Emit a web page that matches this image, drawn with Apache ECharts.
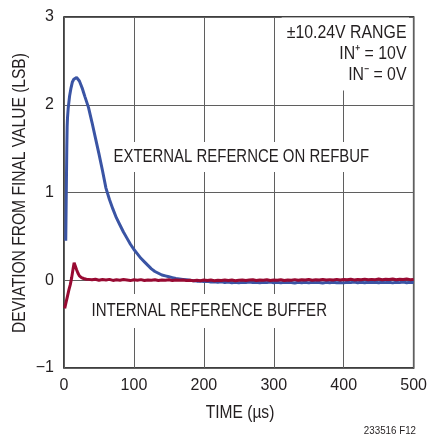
<!DOCTYPE html>
<html>
<head>
<meta charset="utf-8">
<script src="https://cdn.jsdelivr.net/npm/echarts@6/dist/echarts.min.js"></script>
<style>html,body{margin:0;padding:0;background:#fff;}#c{width:430px;height:437px;}</style>
</head>
<body>
<div id="c"></div>
<script>
// ---- data ----
const xTicks = [0, 100, 200, 300, 400, 500];
const yTicks = [-1, 0, 1, 2, 3];

// External reference on REFBUF (blue)
const blueTime = [2.5,3,3.5,4,4.5,5,6,7,8,10,12,14,16,18,20,22,24,26,28,30,35,40,45,50,55,60,65,70,75,80,85,90,95,100,105,110,115,120,125,130,135,140,145,150,155,160,165,170,175,180,
  185,190,195,200,205,210,215,220,225,230,235,240,245,250,255,260,265,270,275,280,285,290,295,300,305,310,315,320,325,330,335,340,345,350,355,360,365,370,375,380,385,390,395,400,405,410,415,420,425,430,435,440,445,450,455,460,465,470,475,480,485,490,495,500];
const blueValue = [0.45,0.8,1.15,1.5,1.75,1.85,1.96,2.03,2.1,2.19,2.26,2.29,2.31,2.31,2.3,2.27,2.23,2.19,2.14,2.09,1.97,1.8,1.62,1.44,1.25,1.05,0.92,0.81,0.71,0.63,0.55,0.48,0.41,0.35,0.3,0.25,0.21,0.17,0.13,0.1,0.08,0.06,0.05,0.04,0.03,0.02,0.015,0.01,0.005,0.0,
  -0.005,-0.01,-0.008,-0.015,-0.012,-0.02,-0.016,-0.022,-0.018,-0.025,-0.02,-0.028,-0.022,-0.03,-0.024,-0.027,-0.02,-0.026,-0.022,-0.029,-0.023,-0.027,-0.021,-0.028,-0.024,-0.03,-0.022,-0.027,-0.025,-0.031,-0.023,-0.028,-0.024,-0.03,-0.022,-0.027,-0.025,-0.031,-0.024,-0.028,-0.022,-0.029,-0.025,-0.03,-0.023,-0.027,-0.021,-0.028,-0.024,-0.029,-0.022,-0.026,-0.023,-0.029,-0.022,-0.027,-0.024,-0.03,-0.023,-0.027,-0.021,-0.028,-0.024,-0.026];

// Internal reference buffer (red)
const redTime = [1,3,5,7,9,11,13,14.5,16,18,20,22,25,28,32,
  35,40,45,50,55,60,65,70,75,80,85,90,95,100,105,110,115,120,125,130,135,140,145,150,155,160,165,170,175,180,185,190,195,200,205,210,215,220,225,230,235,240,245,250,255,260,265,270,275,280,285,290,295,300,305,310,315,320,325,330,335,340,345,350,355,360,365,370,375,380,385,390,395,400,405,410,415,420,425,430,435,440,445,450,455,460,465,470,475,480,485,490,495,500];
const redValue = [-0.32,-0.25,-0.18,-0.11,-0.05,0.03,0.13,0.2,0.19,0.12,0.08,0.05,0.03,0.02,0.012,
  0.01,0.005,0.012,0.0,0.008,0.003,0.01,-0.002,0.006,0.0,0.008,0.002,-0.004,0.005,0.0,0.007,-0.003,0.004,0.0,0.006,-0.002,0.003,0.0,0.005,-0.004,0.002,0.0,0.004,-0.003,0.001,-0.005,0.0,-0.006,0.002,-0.004,0.003,-0.005,0.0,-0.003,0.004,-0.002,0.002,-0.006,0.0,0.003,-0.004,0.002,0.006,-0.002,0.004,0.0,0.005,-0.003,0.003,0.0,0.006,-0.002,0.004,0.001,0.007,-0.001,0.005,0.002,0.008,0.0,0.006,0.003,0.009,0.002,0.007,0.004,0.01,0.003,0.008,0.005,0.012,0.004,0.009,0.006,0.013,0.005,0.01,0.007,0.014,0.006,0.011,0.008,0.015,0.006,0.012,0.009,0.014,0.007,0.01];

const seriesNames = ['EXTERNAL REFERNCE ON REFBUF', 'INTERNAL REFERENCE BUFFER'];
const rangeText = ['\u00B110.24V RANGE', 'IN\u207A = 10V', 'IN\u207B = 0V'];
const xTitle = 'TIME (\u00B5s)';
const yTitle = 'DEVIATION FROM FINAL VALUE (LSB)';
const footnote = '233516 F12';

// ---- chart ----
const pairs = (t, v) => t.map((x, i) => [x, v[i]]);
const SANS = '"Liberation Sans", Arial, sans-serif';
const TXT = '#231f20';
const NARROW_SCALE = 0.82;
const chart = echarts.init(document.getElementById('c'), null, {renderer: 'canvas'});
chart.setOption({
  animation: false,
  backgroundColor: '#fff',
  grid: {left: 64, right: 14, top: 17, bottom: 69, show: true, borderColor: '#000', borderWidth: 1.5, backgroundColor: 'transparent'},
  xAxis: {
    type: 'value', min: 0, max: 500, interval: 100,
    axisLine: {show: false}, axisTick: {show: false},
    axisLabel: {margin: 10, fontFamily: SANS, fontSize: 16, color: TXT,
      formatter: v => xTicks.includes(v) ? String(v) : ''},
    splitLine: {show: true, lineStyle: {color: '#5f5f5f', width: 1}}
  },
  yAxis: {
    type: 'value', min: -1, max: 3, interval: 1,
    axisLine: {show: false}, axisTick: {show: false},
    axisLabel: {margin: 10, fontFamily: SANS, fontSize: 16, color: TXT,
      formatter: v => yTicks.includes(v) ? String(v).replace('-', '\u2212') : ''},
    splitLine: {show: true, lineStyle: {color: '#5f5f5f', width: 1}}
  },
  series: [
    {name: seriesNames[0], type: 'line', data: pairs(blueTime, blueValue), showSymbol: false, smooth: false,
      lineStyle: {color: '#3a54a4', width: 3}, z: 3},
    {name: seriesNames[1], type: 'line', data: pairs(redTime, redValue), showSymbol: false, smooth: false,
      lineStyle: {color: '#980a32', width: 3}, z: 4}
  ],
  graphic: [
    {type: 'text', z: 10, x: 409, y: 54, scaleX: 0.835, style: {text: rangeText.join('\n'), x: 0, y: 0, align: 'right', verticalAlign: 'middle',
      font: '19px ' + SANS, lineHeight: 21, fill: TXT, backgroundColor: '#fff', padding: [4, 3, 6, 6]}},
    {type: 'text', z: 10, x: 111, y: 157, scaleX: 0.83, style: {text: seriesNames[0], x: 0, y: 0, align: 'left', verticalAlign: 'middle',
      font: '18px ' + SANS, fill: TXT, backgroundColor: '#fff', padding: [6, 3, 6, 3]}},
    {type: 'text', z: 10, x: 89, y: 311, scaleX: 0.835, style: {text: seriesNames[1], x: 0, y: 0, align: 'left', verticalAlign: 'middle',
      font: '18px ' + SANS, fill: TXT, backgroundColor: '#fff', padding: [8, 3, 8, 3]}},
    {type: 'text', z: 10, x: 240, y: 413, scaleX: NARROW_SCALE, style: {text: xTitle, x: 0, y: 0, align: 'center', verticalAlign: 'middle',
      font: '19px ' + SANS, fill: TXT}},
    {type: 'text', z: 10, x: 20, y: 193, rotation: Math.PI / 2, scaleX: NARROW_SCALE, style: {text: yTitle, x: 0, y: 0, align: 'center', verticalAlign: 'middle',
      font: '19px ' + SANS, fill: TXT}},
    {type: 'text', z: 10, x: 416, y: 431, scaleX: 0.85, style: {text: footnote, x: 0, y: 0, align: 'right', verticalAlign: 'middle',
      font: '11.5px ' + SANS, fill: TXT}}
  ]
});
</script>
</body>
</html>
